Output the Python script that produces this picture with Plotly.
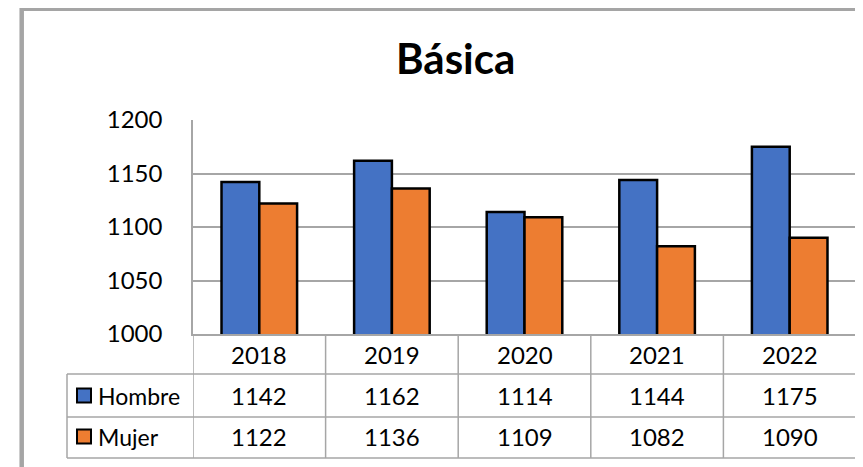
import plotly.graph_objects as go

years = ["2018", "2019", "2020", "2021", "2022"]
hombre = [1142, 1162, 1114, 1144, 1175]
mujer = [1122, 1136, 1109, 1082, 1090]
series_names = ["Hombre", "Mujer"]
colors = ["#4472C4", "#ED7D31"]

# page body has an 8px margin, so the figure is drawn 8px smaller
OFF = 8
W, H = 863 - OFF, 467 - OFF
L, R, T, B = 193, 856, 120, 334  # plot area in page pixels


def px(x):  # page pixel -> paper x
    return (x - L) / (R - L)


def py(y):  # page pixel -> paper y
    return (B - y) / (B - T)


grid = "#a6a6a6"
fnt = dict(family="Lato, Calibri, sans-serif", size=24, color="black")

fig = go.Figure()
for name, vals, col in zip(series_names, [hombre, mujer], colors):
    fig.add_trace(go.Bar(x=years, y=vals, name=name, marker_color=col,
                         marker_line=dict(color="black", width=2.5)))

shapes = []
# chart border (grey, left + top)
shapes.append(dict(type="line", xref="paper", yref="paper", x0=px(21.7), x1=px(900),
                   y0=py(8.7), y1=py(8.7), line=dict(color="#a5a5a5", width=4.5)))
shapes.append(dict(type="line", xref="paper", yref="paper", x0=px(21.7), x1=px(21.7),
                   y0=py(6.5), y1=py(500), line=dict(color="#a5a5a5", width=4.5)))

# data table lines
row_y = [374, 417, 458]
for y in row_y:
    shapes.append(dict(type="line", xref="paper", yref="paper", x0=px(67), x1=1,
                       y0=py(y), y1=py(y), line=dict(color=grid, width=1.5)))
shapes.append(dict(type="line", xref="paper", yref="paper", x0=px(67), x1=px(67),
                   y0=py(374), y1=py(458), line=dict(color=grid, width=1.5)))
for i in range(len(years) + 1):
    shapes.append(dict(type="line", xref="x", yref="paper", x0=i - 0.5, x1=i - 0.5,
                       y0=0, y1=py(458), line=dict(color=grid, width=1.5)))

# legend keys in table
for col, y in zip(colors, [395.5, 436.5]):
    shapes.append(dict(type="rect", xref="paper", yref="paper", x0=px(77), x1=px(91),
                       y0=py(y - 7), y1=py(y + 7), fillcolor=col,
                       line=dict(color="black", width=2)))

annotations = []
annotations.append(dict(text="<b>Básica</b>", xref="paper", yref="paper", x=px(455), y=py(58),
                        showarrow=False, xanchor="center", yanchor="middle",
                        font=dict(family=fnt["family"], size=42, color="black")))
for i, yr in enumerate(years):
    annotations.append(dict(text=yr, xref="x", yref="paper", x=i, y=py(354),
                            showarrow=False, yanchor="middle", font=fnt))
for vals, y in zip([hombre, mujer], [395.5, 436.5]):
    for i, v in enumerate(vals):
        annotations.append(dict(text=str(v), xref="x", yref="paper", x=i, y=py(y),
                                showarrow=False, yanchor="middle", font=fnt))
for name, y in zip(series_names, [395.5, 436.5]):
    annotations.append(dict(text=name, xref="paper", yref="paper", x=px(96), y=py(y),
                            showarrow=False, xanchor="left", yanchor="middle",
                            font=dict(family=fnt["family"], size=23, color="black")))

fig.update_layout(
    width=W, height=H,
    margin=dict(l=L - OFF, r=863 - R, t=T - OFF, b=467 - B, pad=0),
    paper_bgcolor="white", plot_bgcolor="white",
    barmode="group", bargap=0.43, bargroupgap=0,
    showlegend=False, font=fnt,
    shapes=shapes, annotations=annotations,
    xaxis=dict(type="category", range=[-0.5, 4.5], showticklabels=False, ticks="",
               showline=True, linecolor=grid, linewidth=1.5, showgrid=False),
    yaxis=dict(range=[1000, 1200], dtick=50, tick0=1000, showgrid=True, gridcolor=grid,
               gridwidth=1.5, showline=True, linecolor=grid, linewidth=1.5, zeroline=False,
               ticks="", ticklabelstandoff=24, tickfont=fnt),
)

fig.write_html("out.html")
